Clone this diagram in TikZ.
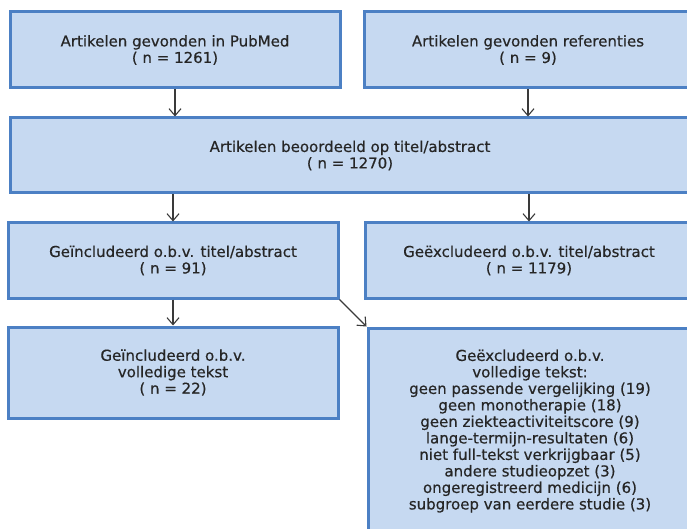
\documentclass[tikz,border=0pt]{standalone}
\usepackage{fontspec}
\setmainfont{DejaVu Sans}[FakeBold=0.5]
\usetikzlibrary{arrows.meta}
\definecolor{boxfill}{HTML}{C6D9F1}
\definecolor{boxline}{HTML}{4C80C4}
\definecolor{txt}{HTML}{262626}
\definecolor{arr}{HTML}{3A3A3A}
\begin{document}
\begin{tikzpicture}[x=1pt,y=-1pt,
  box/.style={draw=boxline, fill=boxfill, line width=3pt, inner sep=0pt, align=center, text=txt, font=\fontsize{15}{16.5}\selectfont},
  arrow/.style={draw=arr, line width=1.1pt, -{Straight Barb[length=7pt,width=12pt]}}]
\useasboundingbox (0,0) rectangle (687,529);
\clip (0,0) rectangle (687,529);
\node[box, minimum width=330pt, minimum height=76pt] (A) at (175,50) {Artikelen gevonden in PubMed\\( n = 1261)};
\node[box, minimum width=328pt, minimum height=76pt] (B) at (528,50) {Artikelen gevonden referenties\\( n = 9)};
\node[box, minimum width=680pt, minimum height=75pt] (C) at (350,155.5) {Artikelen beoordeeld op titel/abstract\\( n = 1270)};
\node[box, minimum width=330pt, minimum height=75pt] (D) at (173,260.5) {Geïncludeerd o.b.v. titel/abstract\\( n = 91)};
\node[box, minimum width=328pt, minimum height=75pt] (E) at (529,260.5) {Geëxcludeerd o.b.v. titel/abstract\\( n = 1179)};
\node[box, minimum width=330pt, minimum height=91pt] (F) at (173,372.5) {Geïncludeerd o.b.v.\\volledige tekst\\( n = 22)};
\node[box, minimum width=324pt, minimum height=206pt] (G) at (530,431) {Geëxcludeerd o.b.v.\\volledige tekst:\\geen passende vergelijking (19)\\geen monotherapie (18)\\geen ziekteactiviteitscore (9)\\lange-termijn-resultaten (6)\\niet full-tekst verkrijgbaar (5)\\andere studieopzet (3)\\ongeregistreerd medicijn (6)\\subgroep van eerdere studie (3)};
\draw[arrow] (A.south) -- (A.south |- C.north);
\draw[arrow] (B.south) -- (B.south |- C.north);
\draw[arrow] (C.south -| D.north) -- (D.north);
\draw[arrow] (C.south -| E.north) -- (E.north);
\draw[arrow] (D.south) -- (F.north);
\draw[arrow] (D.south east) -- (G.north west);
\end{tikzpicture}
\end{document}
